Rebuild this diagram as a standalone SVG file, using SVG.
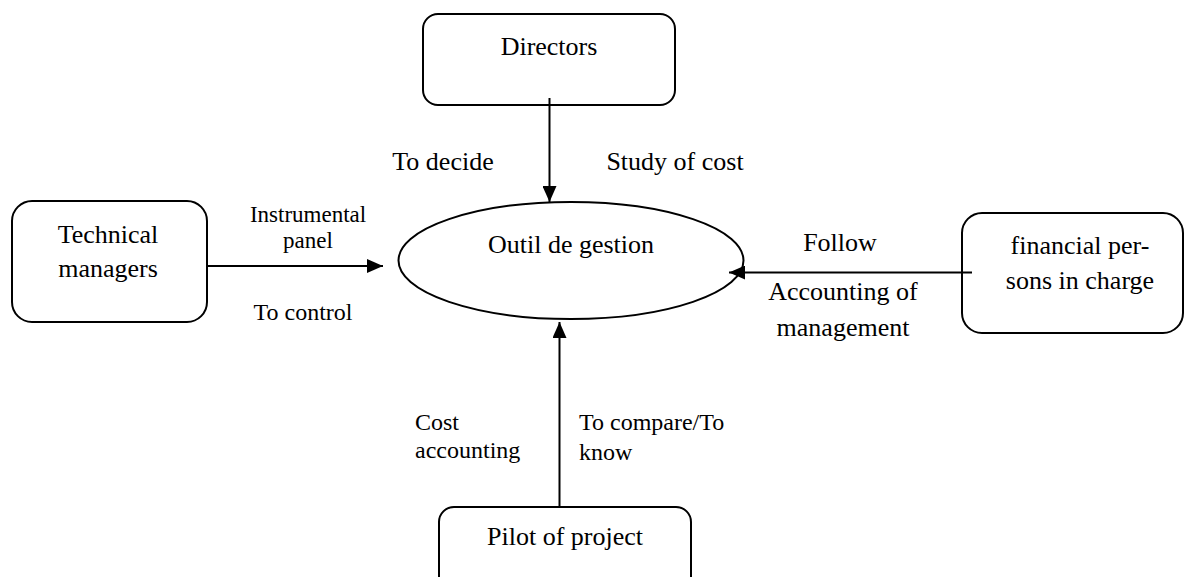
<svg xmlns="http://www.w3.org/2000/svg" width="1185" height="577" viewBox="0 0 1185 577">
<style>
.box{fill:#fff;stroke:#000;stroke-width:2}
.conn{stroke:#000;stroke-width:2;fill:none}
.t{font-family:"Liberation Serif","Times New Roman",serif;font-size:26px;fill:#000}
.s{font-family:"Liberation Serif","Times New Roman",serif;font-size:24px;fill:#000}
.c{text-anchor:middle}
</style>
<defs>
<marker id="arr" viewBox="0 0 16 14" refX="16" refY="7" markerWidth="16" markerHeight="14" markerUnits="userSpaceOnUse" orient="auto">
<path d="M0,0 L16,7 L0,14 Z" fill="#000"/>
</marker>
</defs>
<rect width="1185" height="577" fill="#fff"/>
<g id="outil">
<ellipse class="box" cx="571" cy="260.5" rx="172.5" ry="58.5"/>
<text class="t c" x="571" y="253">Outil de gestion</text>
</g>
<g id="directors">
<rect class="box" x="423" y="14" width="252" height="91" rx="15"/>
<text class="t c" x="549" y="55">Directors</text>
</g>
<g id="technical">
<rect class="box" x="12" y="201" width="195" height="121" rx="20"/>
<text class="t c" x="108" y="243">Technical</text>
<text class="t c" x="108" y="277">managers</text>
</g>
<g id="financial">
<rect class="box" x="962" y="213" width="221" height="120" rx="20"/>
<text class="t c" x="1080" y="254">financial per-</text>
<text class="t c" x="1080" y="289">sons in charge</text>
</g>
<g id="pilot">
<rect class="box" x="439" y="507" width="252" height="90" rx="15"/>
<text class="t c" x="565" y="545">Pilot of project</text>
</g>
<g id="connectors">
<line class="conn" x1="549.5" y1="98" x2="549.5" y2="202" marker-end="url(#arr)"/>
<line class="conn" x1="207" y1="266" x2="383" y2="266" marker-end="url(#arr)"/>
<line class="conn" x1="972" y1="272.5" x2="729" y2="272.5" marker-end="url(#arr)"/>
<line class="conn" x1="559.5" y1="507" x2="559.5" y2="322" marker-end="url(#arr)"/>
</g>
<g id="labels">
<text class="t c" x="443" y="170">To decide</text>
<text class="t c" x="675" y="170">Study of cost</text>
<text class="s c" x="308" y="222" style="font-size:23px">Instrumental</text>
<text class="s c" x="308" y="248" style="font-size:23px">panel</text>
<text class="s c" x="303" y="320">To control</text>
<text class="t c" x="840" y="251">Follow</text>
<text class="t c" x="843" y="300">Accounting of</text>
<text class="t c" x="843" y="336">management</text>
<text class="s" x="415" y="430">Cost</text>
<text class="s" x="415" y="458">accounting</text>
<text class="s" x="579" y="430">To compare/To</text>
<text class="s" x="579" y="460">know</text>
</g>
</svg>
